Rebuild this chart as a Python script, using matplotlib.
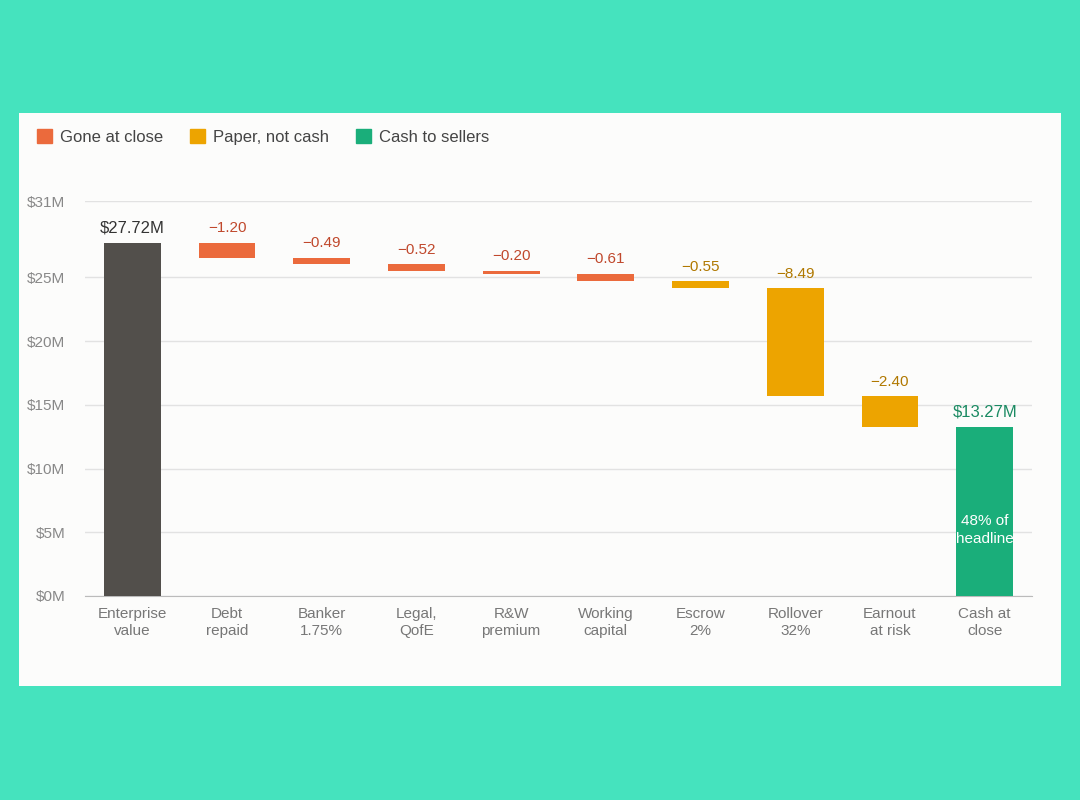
import matplotlib.pyplot as plt
from matplotlib.patches import Rectangle, Patch

categories = ["Enterprise\nvalue", "Debt\nrepaid", "Banker\n1.75%", "Legal,\nQofE", "R&W\npremium",
              "Working\ncapital", "Escrow\n2%", "Rollover\n32%", "Earnout\nat risk", "Cash at\nclose"]
start_value = 27.72
deltas = [-1.20, -0.49, -0.52, -0.20, -0.61, -0.55, -8.49, -2.40]
kinds = ["gone", "gone", "gone", "gone", "gone", "paper", "paper", "paper"]
end_value = 13.27

colors = {"gone": "#EB6A3C", "paper": "#EDA400", "cash": "#1AAE7A", "ev": "#524F4B"}
label_colors = {"gone": "#C0482C", "paper": "#B07800"}

plt.rcParams['font.family'] = ['Liberation Sans', 'DejaVu Sans']
fig = plt.figure(figsize=(10.8, 8), dpi=100)
fig.patch.set_facecolor("#45E3BE")
fig.add_artist(Rectangle((19/1080, 1-686/800), 1042/1080, 573/800, transform=fig.transFigure,
                         facecolor="#FCFCFB", edgecolor="none", zorder=0))

ax = fig.add_axes([85/1080, 1-596/800, 947/1080, 395/800])
ax.set_facecolor("none")
w = 0.6

ax.bar(0, start_value, width=w, color=colors["ev"], zorder=3)
ax.text(0, start_value + 0.6, f"${start_value:.2f}M", ha="center", va="bottom", fontsize=12, color="#333333")

level = start_value
for i, (d, k) in enumerate(zip(deltas, kinds), start=1):
    ax.bar(i, d, bottom=level, width=w, color=colors[k], zorder=3)
    ax.text(i, level + 0.6, f"\u2212{abs(d):.2f}", ha="center", va="bottom", fontsize=11, color=label_colors[k])
    level += d

n = len(categories) - 1
cash = ax.bar(n, end_value, width=w, color=colors["cash"], zorder=3)
ax.text(n, end_value + 0.6, f"${end_value:.2f}M", ha="center", va="bottom", fontsize=12, color="#1A8A62")
t = ax.text(n, 5.2, "48% of\nheadline", ha="center", va="center", fontsize=11, color="white", zorder=4,
            linespacing=1.4)
t.set_clip_path(cash[0])

ax.set_xlim(-0.5, n + 0.5)
ax.set_ylim(0, 31)
ax.set_yticks([0, 5, 10, 15, 20, 25, 31])
ax.set_yticklabels([f"${v}M" for v in [0, 5, 10, 15, 20, 25, 31]])
ax.set_xticks(range(len(categories)))
ax.set_xticklabels(categories, fontsize=11, color="#777777", linespacing=1.3)
ax.tick_params(axis="y", labelsize=11, labelcolor="#888888", length=0, pad=14)
ax.tick_params(axis="x", length=0, pad=8)
ax.grid(axis="y", color="#E2E2E2", linewidth=1, zorder=0)
for s in ["top", "right", "left"]:
    ax.spines[s].set_visible(False)
ax.spines["bottom"].set_color("#BBBBBB")

handles = [Patch(color=colors["gone"], label="Gone at close"),
           Patch(color=colors["paper"], label="Paper, not cash"),
           Patch(color=colors["cash"], label="Cash to sellers")]
fig.legend(handles=handles, loc="center left", bbox_to_anchor=(22/1080, 1-137/800), ncol=3, frameon=False,
           fontsize=12, handlelength=0.9, handleheight=0.9, handletextpad=0.5, columnspacing=1.6,
           labelcolor="#444444")

fig.savefig("out.png", dpi=100, facecolor=fig.get_facecolor())
